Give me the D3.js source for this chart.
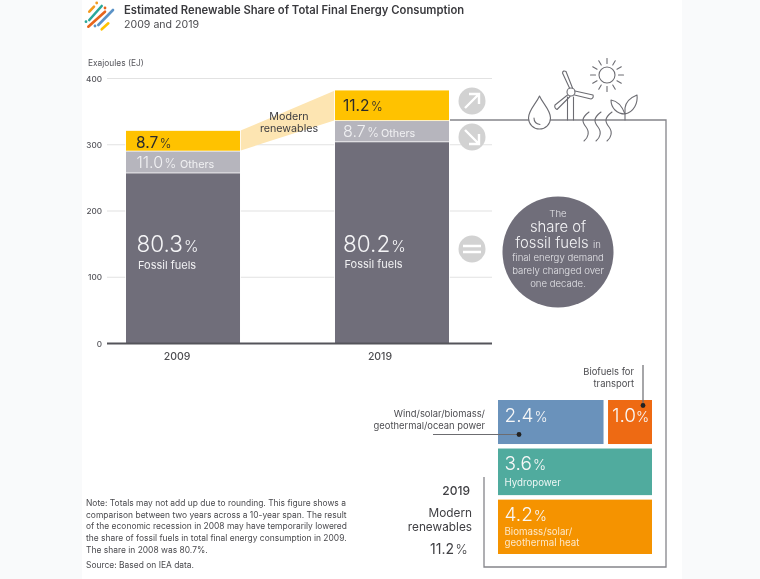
<!DOCTYPE html>
<html><head><meta charset="utf-8">
<script src="https://cdn.jsdelivr.net/npm/d3@7"></script>
<style>
html,body{margin:0;padding:0;background:#f9fafb;overflow:hidden}
svg{display:block;filter:blur(.4px)}
text{font-family:Inter,Roboto,sans-serif}
</style></head><body><svg id="c" width="760" height="579"></svg>
<script>
const years=["2009","2019"];
const segments=["fossil","others","modern"];
const fossil=[258,305];
const others=[33,32];
const modern=[30,45];
const fossilPct=["80.3","80.2"];
const othersPct=["11.0","8.7"];
const modernPct=["8.7","11.2"];
const yTicks=[0,100,200,300,400];
const heatPct=4.2, hydroPct=3.6, windPct=2.4, biofuelPct=1.0;
const noteLines=["Note: Totals may not add up due to rounding. This figure shows a","comparison between two years across a 10-year span. The result","of the economic recession in 2008 may have temporarily lowered","the share of fossil fuels in total final energy consumption in 2009.","The share in 2008 was 80.7%."];

const svg=d3.select("#c");
svg.append("rect").attr("x",82).attr("width",600).attr("height",579).attr("fill","#fff");

const y=d3.scaleLinear().domain([0,400]).range([343.5,78.5]);
const x=d3.scaleBand().domain(years).range([126,449]).paddingInner(.4545).paddingOuter(0);
const colors={fossil:"#706e7a",others:"#b6b5bd",modern:"#ffc200"};
const table=years.map((k,i)=>({year:k,fossil:fossil[i],others:others[i],modern:modern[i]}));
const stacked=d3.stack().keys(segments)(table);

// grid
const axisG=svg.append("g");
axisG.selectAll("line").data(yTicks.slice(1)).join("line")
 .attr("x1",107).attr("x2",492).attr("y1",d=>y(d)).attr("y2",d=>y(d))
 .attr("stroke","#e2e2e2").attr("stroke-width",1.2);
axisG.selectAll("text").data(yTicks).join("text")
 .attr("x",102).attr("y",d=>y(d)+3).attr("text-anchor","end")
 .attr("font-size",8.2).attr("font-weight",500).attr("fill","#55555b").text(d=>d);

// connector band
const area=d3.area().x(d=>d.x).y0(d=>d.y0).y1(d=>d.y1);
svg.append("path").attr("fill","#fde5b2").attr("d",area(stacked[2].map((d,i)=>({
  x:i==0?x("2009")+x.bandwidth():x("2019"),y0:y(d[0]),y1:y(d[1])}))));

// bars
svg.append("g").selectAll("g").data(stacked).join("g").attr("fill",d=>colors[d.key])
 .selectAll("rect").data(d=>d).join("rect")
 .attr("x",d=>x(d.data.year)).attr("width",x.bandwidth())
 .attr("y",d=>y(d[1])).attr("height",d=>y(d[0])-y(d[1]))
 .attr("stroke","#fff").attr("stroke-width",1.6).attr("paint-order","stroke");
svg.append("line").attr("x1",107).attr("x2",492).attr("y1",343.5).attr("y2",343.5).attr("stroke","#54545a").attr("stroke-width",1.8);

function pct(g,px,py,val,s1,s2,fill,weight,dx){
 const t=g.append("text").attr("x",px).attr("y",py).attr("fill",fill);
 t.append("tspan").attr("font-size",s1).attr("font-weight",weight||300).text(val);
 t.append("tspan").attr("font-size",s2).attr("font-weight",300).attr("dx",dx==null?1.5:dx).text("%");
 return t;
}
function label(px,py,txt,size,fill,anchor,weight){
 return svg.append("text").attr("x",px).attr("y",py).attr("font-size",size).attr("fill",fill)
  .attr("text-anchor",anchor||"start").attr("font-weight",weight||400).text(txt);
}
const g=svg.append("g");
const valDx=[10.5,8], modernOff=[3,9], othersLabelDx=[54,46], yearDx=[-6,-12];
years.forEach((yr,i)=>{
 const bx=x(yr);
 label(bx+x.bandwidth()/2+yearDx[i],360,yr,10.5,"#4c4c50","middle",500);
 pct(g,bx+(i?8:10),y(stacked[2][i][0])-modernOff[i],modernPct[i],15.5,12.5,"#2b2b2b",400);
 pct(g,bx+valDx[i],y(stacked[1][i][0])-4.5,othersPct[i],16,12.5,"#f1f1f3");
 label(bx+othersLabelDx[i],y(stacked[1][i][0])-4.5,"Others",10.8,"#f1f1f3");
 pct(g,bx+valDx[i],y(0)-91.5-i*.5,fossilPct[i],22.5,15.5,"#f5f5f7",300,1);
 label(bx+valDx[i]+1.5,y(0)-75-i,"Fossil fuels",11,"#f1f1f3");
});
label(289,120,"Modern",10.7,"#3c3c40","middle");
label(289,132,"renewables",10.7,"#3c3c40","middle");

// title
label(124,13.5,"Estimated Renewable Share of Total Final Energy Consumption",11.25,"#3a3a3e","start",600);
label(124,28,"2009 and 2019",10.6,"#4c4c50");
label(88,66,"Exajoules (EJ)",8.4,"#55555b");

// logo
const logo=[["#f39a1e",89.3,11.7,94,6.7],["#2aa89a",89.3,20,101.7,6],["#e8641b",88.3,26.7,105,11.7],["#5b93c7",98.3,25,113,10],["#ffc200",101.7,29.3,108.3,23.3]];
logo.forEach(l=>svg.append("line").attr("x1",l[1]).attr("y1",l[2]).attr("x2",l[3]).attr("y2",l[4]).attr("stroke",l[0]).attr("stroke-width",2.6).attr("stroke-linecap","round"));
[["#2aa89a",86,21.7],["#5b93c7",95,26],["#f39a1e",96.7,3],["#e8641b",105,8]].forEach(d=>svg.append("circle").attr("cx",d[1]).attr("cy",d[2]).attr("r",1.4).attr("fill",d[0]));

// frame
const lineCol="#85858a";
svg.append("path").attr("d","M450 120H666V567H484V477").attr("fill","none").attr("stroke",lineCol).attr("stroke-width",1.3);

// trend icons
const iconG=svg.append("g");
[[472,101],[472,137],[472,249]].forEach(c=>iconG.append("circle").attr("cx",c[0]).attr("cy",c[1]).attr("r",13.5).attr("fill","#d2d2d2"));
const ws={fill:"none",stroke:"#fff","stroke-width":2.4};
function wp(d){const p=iconG.append("path").attr("d",d);Object.entries(ws).forEach(([k,v])=>p.attr(k,v));}
wp("M465 108L479 94M469 94H479V104");
wp("M465 130L479 144M469 144H479V134");
wp("M463 246H481M463 252H481");

// environment icons
const ic=svg.append("g").attr("fill","none").attr("stroke","#6c6c72").attr("stroke-width",1.1).attr("stroke-linecap","round").attr("stroke-linejoin","round");
ic.append("path").attr("fill","#fff").attr("d","M539.5 96C536 104 528.5 110 528.5 118A11 11 0 0 0 550.5 118C550.5 110 543 104 539.5 96Z");
ic.append("path").attr("d","M534 118C534 122 536 124 540 124.5");
ic.append("path").attr("d","M567.5 120V97M573.5 120V97");
ic.append("circle").attr("cx",571).attr("cy",92).attr("r",4);
ic.append("path").attr("d","M569.5 88L562.5 73Q563 70 566 71.5L572.5 88");
ic.append("path").attr("d","M575 91L593 95Q594 98 591 99L574.5 95");
ic.append("path").attr("d","M567.5 95L555 105Q554 108 557 109.5L570 96.5");
ic.append("circle").attr("cx",607).attr("cy",75).attr("r",8);
d3.range(12).forEach(i=>{const a=i*Math.PI/6;
 ic.append("line").attr("x1",607+11.5*Math.cos(a)).attr("y1",75+11.5*Math.sin(a)).attr("x2",607+16.5*Math.cos(a)).attr("y2",75+16.5*Math.sin(a));});
[585,597,608].forEach(px=>ic.append("path").attr("d",`M${px+4} 112C${px-4} 118 ${px-3} 122 ${px+1} 127C${px+5} 132 ${px+3} 138 ${px-1} 141`));
ic.append("path").attr("d","M625 120V108C626 100 632 97 637 95C638 103 634 112 625 114");
ic.append("path").attr("d","M625 114C622 106 618 101 611 100C611 108 617 114 625 114");

// callout circle
svg.append("circle").attr("cx",558).attr("cy",252).attr("r",55.5).attr("fill","#706e7a");
label(558,216.5,"The",9.6,"#e4e4e8","middle",300);
label(558,232,"share of",14.8,"#f5f5f7","middle",300);
label(552,247.5,"fossil fuels",14.8,"#f5f5f7","middle",300);
label(597,247.5,"in",9.6,"#e4e4e8","middle",300);
[["final energy demand",261],["barely changed over",274],["one decade.",287]].forEach(d=>label(558,d[1],d[0],9.6,"#e4e4e8","middle",300));

// treemap: areas proportional, gaps added between boxes
const gap=4.5, left=498, right=652, bottom=554;
const hScale=d3.scaleLinear().domain([0,heatPct+hydroPct+windPct+biofuelPct]).range([0,145]);
const wScale=d3.scaleLinear().domain([0,windPct+biofuelPct]).range([0,right-left-gap]);
const heatTop=bottom-hScale(heatPct);
const hydroTop=heatTop-gap-hScale(hydroPct);
const topBottom=hydroTop-gap;
const topTop=topBottom-hScale(windPct+biofuelPct);
const boxes=[
 {k:"wind",c:"#6a92bb",x0:left,x1:left+wScale(windPct),y0:topTop,y1:topBottom,v:windPct},
 {k:"bio",c:"#ee6a13",x0:left+wScale(windPct)+gap,x1:right,y0:topTop,y1:topBottom,v:biofuelPct},
 {k:"hydro",c:"#50ab9e",x0:left,x1:right,y0:hydroTop,y1:heatTop-gap,v:hydroPct},
 {k:"heat",c:"#f59300",x0:left,x1:right,y0:heatTop,y1:bottom,v:heatPct}];
const tm=svg.append("g");
tm.selectAll("rect").data(boxes).join("rect").attr("x",d=>d.x0).attr("y",d=>d.y0)
 .attr("width",d=>d.x1-d.x0).attr("height",d=>d.y1-d.y0).attr("fill",d=>d.c);
boxes.forEach(b=>{
 const small=b.k=="bio";
 pct(tm,b.x0+(small?4:6.5),b.y0+21.7,b.v.toFixed(1),19,14,"#f8f8f8",300,small?0:1);
});
label(504.5,hydroTop+37.5,"Hydropower",9.7,"#eef7f5");
label(504.5,heatTop+35,"Biomass/solar/",9.7,"#fde8c8");
label(504.5,heatTop+46.8,"geothermal heat",9.7,"#fde8c8");

// leaders
const lead=svg.append("g");
lead.append("path").attr("d","M433 434.5H519M643 365V405.5").attr("fill","none").attr("stroke","#6c6c70").attr("stroke-width",1.2);
lead.append("circle").attr("cx",519).attr("cy",434.5).attr("r",2.4).attr("fill","#222");
lead.append("circle").attr("cx",643).attr("cy",405.5).attr("r",2.4).attr("fill","#222");
label(634,375,"Biofuels for",9.4,"#4c4c50","end");
label(634,387,"transport",9.4,"#4c4c50","end");
label(485,417,"Wind/solar/biomass/",9.4,"#4c4c50","end");
label(485,429,"geothermal/ocean power",9.4,"#4c4c50","end");

// side total
label(470,495,"2019",12,"#404044","end",500);
label(472,516.5,"Modern",11.8,"#404044","end");
label(472,531,"renewables",11.8,"#404044","end");
pct(svg,430,554,"11.2",14,13,"#404044",400);

// note
const nt=svg.append("g");
noteLines.forEach((l,i)=>nt.append("text").attr("x",86).attr("y",506+i*11.7).attr("font-size",8.45).attr("fill","#4a4a4e").text(l));
nt.append("text").attr("x",86).attr("y",568).attr("font-size",8.45).attr("fill","#4a4a4e").text("Source: Based on IEA data.");
</script></body></html>
